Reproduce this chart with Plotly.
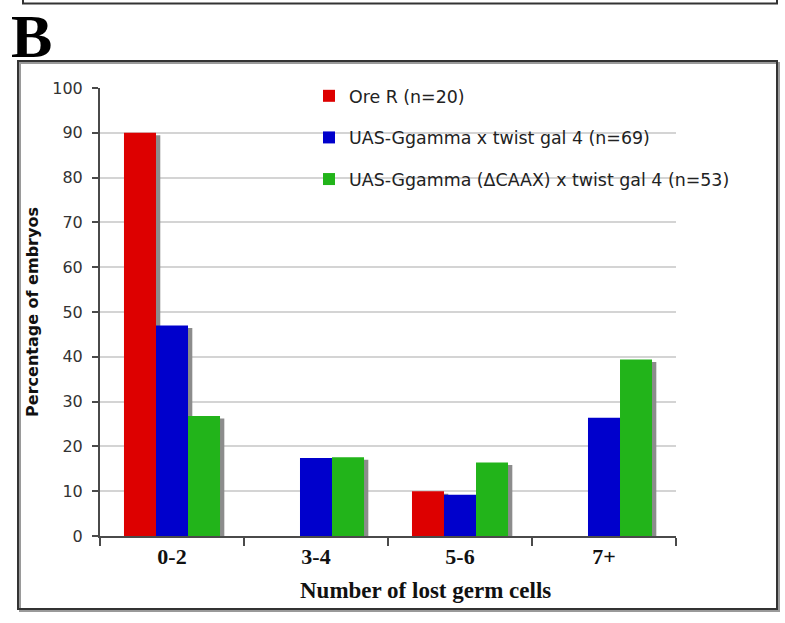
import plotly.graph_objects as go

categories = ["0-2", "3-4", "5-6", "7+"]
series_names = [
    "Ore R (n=20)",
    "UAS-Ggamma x twist gal 4 (n=69)",
    "UAS-Ggamma (\u0394CAAX) x twist gal 4 (n=53)",
]
ore_r = [90, 0, 10, 0]
ggamma = [47, 17.4, 9.2, 26.4]
ggamma_dcaax = [26.8, 17.6, 16.4, 39.4]
series_values = [ore_r, ggamma, ggamma_dcaax]
colors = ["#DD0000", "#0000CC", "#22B41A"]
y_ticks = [0, 10, 20, 30, 40, 50, 60, 70, 80, 90, 100]

W, H = 785, 623
L, R, T, B = 100, 109, 88, 87
PW, PH = W - L - R, H - T - B


def px(xp):
    return (xp - L) / PW


def py(yp):
    return (H - B - yp) / PH


fig = go.Figure()

# shadows (drawn underneath, on the base axes shifted a few pixels)
for vals in series_values:
    fig.add_trace(go.Bar(x=categories, y=vals, marker=dict(color="#8c8c8c", line=dict(width=0)),
                         xaxis="x", yaxis="y", showlegend=False, hoverinfo="skip"))

# real bars
for i, (name, vals, col) in enumerate(zip(series_names, series_values, colors)):
    fig.add_trace(go.Bar(x=categories, y=vals, name=name, legendgroup=f"g{i}",
                         marker=dict(color=col, line=dict(width=0)),
                         xaxis="x2", yaxis="y2"))

dx = 4.3 / (PW / 4)
dy = 2.5 / (PH / 100)

axis_font = dict(family="DejaVu Sans, Verdana, sans-serif", size=16, color="#333333")

fig.update_layout(
    width=W, height=H,
    margin=dict(l=L, r=R, t=T, b=B, autoexpand=False),
    paper_bgcolor="white", plot_bgcolor="white",
    barmode="group", bargap=0.333, bargroupgap=0,
    xaxis=dict(type="category", range=[-0.5 - dx, 3.5 - dx], visible=False, fixedrange=True),
    yaxis=dict(range=[0 + dy, 100 + dy], visible=False, fixedrange=True),
    xaxis2=dict(type="category", overlaying="x", anchor="y2", side="bottom",
                range=[-0.5, 3.5], showline=True, linecolor="#4a4a4a", linewidth=2,
                ticks="outside", tickson="boundaries", ticklen=8, tickwidth=2, tickcolor="#4a4a4a",
                showgrid=False,
                tickfont=dict(family="Liberation Serif, Times New Roman, serif", size=22,
                              color="#111111", weight="bold")),
    yaxis2=dict(overlaying="y", anchor="x2", side="left", range=[0, 100],
                tickvals=y_ticks, showline=True, linecolor="#4a4a4a", linewidth=2,
                ticks="outside", ticklen=6, tickwidth=2, tickcolor="#4a4a4a",
                ticklabelstandoff=6,
                showgrid=True, gridcolor="#d4d4d4", gridwidth=2, zeroline=False,
                tickfont=axis_font,
                title=dict(text="Percentage of embryos", standoff=10,
                           font=dict(family="DejaVu Sans, Verdana, sans-serif", size=16,
                                     color="#111111", weight="bold"))),
    legend=dict(x=px(309), y=py(78), xanchor="left", yanchor="top",
                bgcolor="rgba(0,0,0,0)", borderwidth=0, itemwidth=30,
                traceorder="grouped", tracegroupgap=16,
                font=dict(family="DejaVu Sans, Verdana, sans-serif", size=17.4, color="#222222")),
    showlegend=True,
)

fig.add_annotation(text="Number of lost germ cells", xref="paper", yref="paper",
                   x=px(425), y=py(590), xanchor="center", yanchor="middle", showarrow=False,
                   font=dict(family="Liberation Serif, Times New Roman, serif", size=23,
                             color="#111111", weight="bold"))
fig.add_annotation(text="B", xref="paper", yref="paper",
                   x=px(9), y=py(36), xanchor="left", yanchor="middle", showarrow=False,
                   font=dict(family="Liberation Serif, Times New Roman, serif", size=62,
                             color="#000000", weight="bold"))

# panel frame with subtle shadow
fig.add_shape(type="rect", xref="paper", yref="paper",
              x0=px(20), x1=px(779), y0=py(611), y1=py(63),
              line=dict(color="#9a9a9a", width=2), layer="below")
fig.add_shape(type="rect", xref="paper", yref="paper",
              x0=px(18), x1=px(777), y0=py(609), y1=py(61),
              line=dict(color="#333333", width=2), layer="below")
# bottom edge of the panel above
fig.add_shape(type="path", xref="paper", yref="paper",
              path=f"M {px(23)} {py(-10)} L {px(23)} {py(3.5)} L {px(777)} {py(3.5)} L {px(777)} {py(-10)}",
              line=dict(color="#333333", width=2), layer="below")

fig.write_html("out.html", config={"displayModeBar": False},
               post_script="document.body.style.margin='0px';")
